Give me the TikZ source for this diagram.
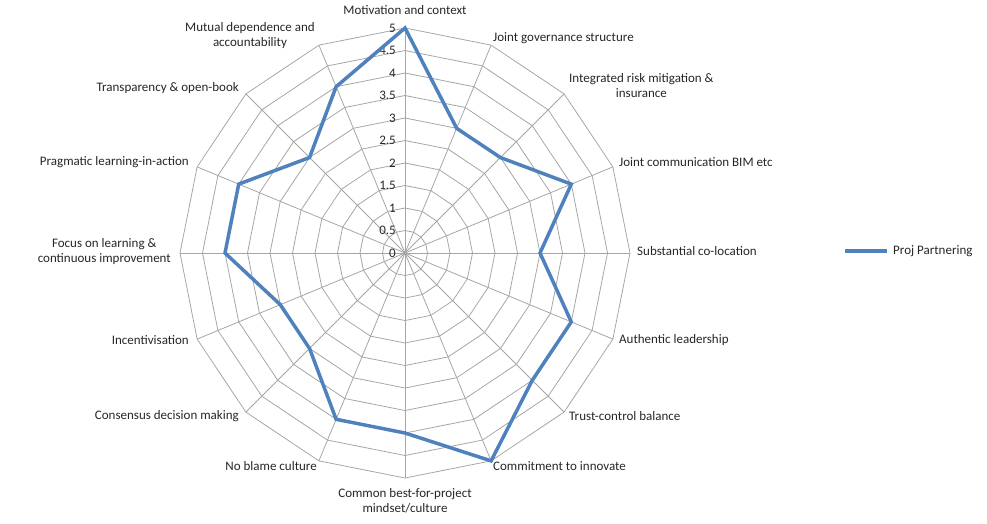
\documentclass[tikz,border=0pt]{standalone}
\usepackage{fontspec}
\setmainfont{Carlito}
\definecolor{serblue}{RGB}{79,129,189}
\begin{document}
\begin{tikzpicture}[x=1pt,y=-1pt,
  grid/.style={draw=black!35,line width=0.8pt},
  serie/.style={draw=serblue,line width=3.5pt,line join=miter},
  lab/.style={font=\fontsize{13}{15}\selectfont,text=black!85,inner sep=1pt,align=center},
  tick/.style={font=\fontsize{13}{14}\selectfont,text=black!85,anchor=east,inner sep=1pt}]
\useasboundingbox (0,0) rectangle (987,523);
\coordinate (c) at (405,253);
\def\R{45}
\foreach \r in {1,...,10}{
  \draw[grid] ({405},{253-\r*\R/2})
  \foreach \k in {1,...,16}{ -- ({405+\r*\R/2*sin(22.5*\k)},{253-\r*\R/2*cos(22.5*\k)}) } -- cycle;
}
\foreach \k in {0,...,15}{
  \draw[grid] (c) -- ({405+5*\R*sin(22.5*\k)},{253-5*\R*cos(22.5*\k)});
}
\foreach \v in {0,0.5,1,1.5,2,2.5,3,3.5,4,4.5,5}
  \node[tick] at (397,{253-\v*\R}) {\v};
\foreach \k/\v in {0/5,1/3,2/3,3/4,4/3,5/4,6/4,7/5,8/4,9/4,10/3,11/3,12/4,13/4,14/3,15/4}
  \coordinate (p\k) at ({405+\v*\R*sin(22.5*\k)},{253-\v*\R*cos(22.5*\k)});
\draw[serie] (p0)--(p1)--(p2)--(p3)--(p4)--(p5)--(p6)--(p7)--(p8)--(p9)--(p10)--(p11)--(p12)--(p13)--(p14)--(p15)--cycle;
\node[lab,anchor=south] (l0) at (405,16) {Motivation and context};
\node[lab,anchor=west] (l1) at (492,38) {Joint governance structure};
\node[lab,anchor=west] (l2) at (568,86) {Integrated risk mitigation \&\\insurance};
\node[lab,anchor=west] (l3) at (618,162) {Joint communication BIM etc};
\node[lab,anchor=west] (l4) at (636,251) {Substantial co-location};
\node[lab,anchor=west] (l5) at (618,340) {Authentic leadership};
\node[lab,anchor=west] (l6) at (568,416) {Trust-control balance};
\node[lab,anchor=west] (l7) at (492,466) {Commitment to innovate};
\node[lab,anchor=north] (l8) at (405,487) {Common best-for-project\\mindset/culture};
\node[lab,anchor=east] (l9) at (318,466) {No blame culture};
\node[lab,anchor=east] (l10) at (240,416) {Consensus decision making};
\node[lab,anchor=east] (l11) at (190,340) {Incentivisation};
\node[lab,anchor=east] (l12) at (172,252) {Focus on learning \&\\continuous improvement};
\node[lab,anchor=east] (l13) at (190,162) {Pragmatic learning-in-action};
\node[lab,anchor=east] (l14) at (240,88) {Transparency \& open-book};
\node[lab,anchor=east] (l15) at (316,36) {Mutual dependence and\\accountability};
\coordinate (la) at (845,251);
\coordinate (lb) at (887,251);
\draw[serie] (la) -- (lb);
\node[lab,anchor=west] (leg) at (892,251) {Proj Partnering};
\end{tikzpicture}
\end{document}
